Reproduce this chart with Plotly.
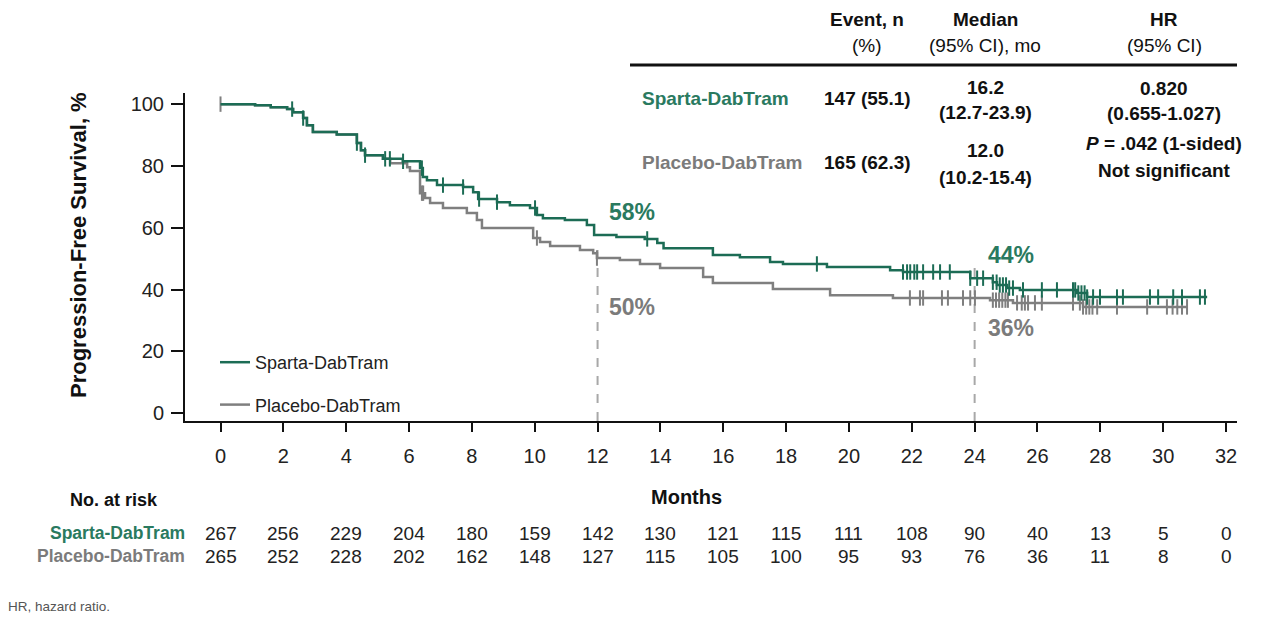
import numpy as np
import plotly.graph_objects as go

# ---------------- data ----------------
month_ticks = list(range(0, 33, 2))
y_ticks = [0, 20, 40, 60, 80, 100]

sparta_name = "Sparta-DabTram"
placebo_name = "Placebo-DabTram"

# Kaplan-Meier step points (month, PFS %)
sparta_t = [0, 1.10, 1.6, 2.12, 2.31, 2.63, 2.75, 2.94, 3.7, 4.34, 4.47, 4.6, 5.17, 5.8,
            6.35, 6.44, 6.57, 6.89, 7.72, 8.04, 8.2, 8.8, 9.21, 9.85, 10.07, 10.26, 10.96,
            11.66, 11.89, 12.6, 13.5, 13.9, 14.1, 15.67, 16.53, 17.49, 17.9, 19.3, 21.31,
            21.72, 23.86, 24.58, 24.71, 25.03, 25.44, 27.26, 27.58]
sparta_s = [100, 99.6, 99.0, 98.4, 97.4, 95.5, 93.2, 91.0, 90.2, 87.4, 85.1, 83.5, 82.3, 81.5,
            79.3, 76.4, 75.4, 73.8, 73.2, 71.5, 69.3, 68.3, 67.3, 66.4, 64.1, 63.1, 62.5,
            60.9, 57.7, 57.0, 56.4, 55.1, 53.4, 51.2, 50.5, 48.9, 48.3, 47.3, 46.3,
            45.7, 43.7, 42.4, 41.5, 40.5, 39.9, 38.9, 37.6]
sparta_last = 31.4

placebo_t = [0, 1.10, 1.6, 2.12, 2.31, 2.63, 2.75, 2.94, 3.7, 4.34, 4.47, 4.6, 5.17, 5.4,
             5.94, 6.03, 6.35, 6.51, 6.67, 7.08, 7.84, 8.16, 8.32, 9.95, 10.17, 10.49, 11.44,
             11.86, 11.98, 12.71, 13.35, 13.99, 15.36, 15.67, 17.58, 19.40, 21.4, 24.49,
             25.22, 27.45]
placebo_s = [100, 99.6, 99.0, 98.4, 97.4, 95.5, 93.2, 91.0, 90.2, 87.4, 85.1, 83.5, 82.3, 80.9,
             79.6, 78.4, 71.2, 69.6, 68.0, 66.4, 64.8, 62.5, 59.9, 56.7, 55.4, 54.1, 52.8,
             51.8, 50.2, 49.6, 48.3, 47.0, 44.1, 42.1, 40.2, 38.2, 37.3, 36.6,
             35.7, 34.4]
placebo_last = 30.76

# censoring times (months)
sparta_censor = [2.28, 2.63, 4.34, 4.6, 5.24, 5.39, 5.81, 6.41, 7.08, 7.72, 8.23, 8.8, 10.01,
                 13.58, 18.98, 21.72, 21.85, 21.95, 22.08, 22.17, 22.36, 22.68, 22.9, 23.21,
                 23.86, 24.08, 24.27, 24.58, 24.7, 24.8, 24.9, 25.0, 25.1, 25.22, 25.54,
                 26.14, 26.62, 27.13, 27.2, 27.3, 27.4, 27.5, 27.58, 27.77, 27.99, 28.53,
                 28.72, 29.58, 29.84, 30.32, 30.6, 31.17, 31.33]
placebo_censor = [0.0, 6.41, 6.45, 10.07, 11.98, 21.94, 22.26, 22.36, 22.96, 23.15, 23.63, 23.86,
                  24.01, 24.58, 24.68, 24.78, 24.88, 24.98, 25.06, 25.35, 25.5, 25.6, 25.7,
                  25.92, 26.14, 27.13, 27.35, 27.45, 27.55, 27.65, 27.75, 27.9, 28.53, 29.49,
                  30.12, 30.3, 30.45, 30.6, 30.76]

# landmarks
landmark_months = [12, 24]
landmark_line_top = [52.8, 48.0]
sparta_landmark = ["58%", "44%"]
placebo_landmark = ["50%", "36%"]

# numbers at risk
risk_months = month_ticks
sparta_risk = [267, 256, 229, 204, 180, 159, 142, 130, 121, 115, 111, 108, 90, 40, 13, 5, 0]
placebo_risk = [265, 252, 228, 202, 162, 148, 127, 115, 105, 100, 95, 93, 76, 36, 11, 8, 0]

# summary table
table_header = [["Event, n", "(%)"], ["Median", "(95% CI), mo"], ["HR", "(95% CI)"]]
sparta_events = "147 (55.1)"
placebo_events = "165 (62.3)"
sparta_median = ["16.2", "(12.7-23.9)"]
placebo_median = ["12.0", "(10.2-15.4)"]
hr_text = ["0.820", "(0.655-1.027)", "<i>P</i> = .042 (1-sided)", "Not significant"]

# ---------------- style / geometry ----------------
GREEN = "#1c6c55"
GREEN_TXT = "#2a7a5f"
GRAY = "#7f7f7f"
GRAY_TXT = "#7b7b7b"
DASH = "#a8a8a8"
FONT = "Liberation Sans Narrow, Arial Narrow, Liberation Sans, Arial, sans-serif"

OFF = 8  # page body margin
W, H = 1263 - OFF, 625 - OFF
L, R, T, B = 185, 1237, 93, 421      # plot area in page pixels
X_RANGE = [-1.13, 32.35]
Y_RANGE = [-2.5, 103.6]


def px(x):
    return (x - L) / (R - L)


def py(y):
    return (B - y) / (B - T)


def step_value(ts, ss, t):
    i = np.searchsorted(np.array(ts), t, side="right") - 1
    return ss[max(i, 0)]


fig = go.Figure()

# dashed landmark lines
for m, top in zip(landmark_months, landmark_line_top):
    fig.add_trace(go.Scatter(x=[m, m], y=[Y_RANGE[0], top], mode="lines",
                             line=dict(color=DASH, width=2, dash="dash"),
                             showlegend=False, hoverinfo="skip"))

# curves
for name, ts, ss, last, cens, col, grp in [
    (placebo_name, placebo_t, placebo_s, placebo_last, placebo_censor, GRAY, "b"),
    (sparta_name, sparta_t, sparta_s, sparta_last, sparta_censor, GREEN, "a"),
]:
    fig.add_trace(go.Scatter(x=list(ts) + [last], y=list(ss) + [ss[-1]], mode="lines",
                             line=dict(color=col, width=2.5, shape="hv"),
                             name=name, legendgroup=grp, legendrank=1 if grp == "a" else 2))
    cy = [step_value(ts, ss, c) for c in cens]
    fig.add_trace(go.Scatter(x=cens, y=cy, mode="markers",
                             marker=dict(symbol="line-ns", size=11,
                                         line=dict(color=col, width=2)),
                             showlegend=False, hoverinfo="skip", legendgroup=grp))

ann = []


def add_text(x, y, text, size, color="#111", xanchor="center", xref="paper", yref="paper", **kw):
    ann.append(dict(x=x, y=y, xref=xref, yref=yref, text=text, showarrow=False,
                    xanchor=xanchor, yanchor="middle",
                    font=dict(size=size, color=color, family=FONT), **kw))


# landmark labels
lab_x = [13.11, 25.15]
lab_y_sp = [65.1, 51.2]
lab_y_pl = [34.4, 27.6]
for i in range(len(landmark_months)):
    add_text(lab_x[i], lab_y_sp[i], f"<b>{sparta_landmark[i]}</b>", 23, GREEN_TXT, xref="x", yref="y")
    add_text(lab_x[i], lab_y_pl[i], f"<b>{placebo_landmark[i]}</b>", 23, GRAY_TXT, xref="x", yref="y")

# y axis title
add_text(px(78), py(245), "<b>Progression-Free Survival, %</b>", 22, "#111", textangle=-90)

# summary table
col_x = [867, 985, 1164]
TFS = 19
for cx, (h1, h2) in zip(col_x, table_header):
    add_text(px(cx), py(20), f"<b>{h1}</b>", TFS)
    add_text(px(cx), py(46), h2, TFS)

add_text(px(640), py(98), f"<b>{sparta_name}</b>", TFS, GREEN_TXT, xanchor="left")
add_text(px(640), py(162), f"<b>{placebo_name}</b>", TFS, GRAY_TXT, xanchor="left")
add_text(px(col_x[0]), py(98), f"<b>{sparta_events}</b>", TFS)
add_text(px(col_x[0]), py(162), f"<b>{placebo_events}</b>", TFS)
for txt, yy in zip(sparta_median, [87, 112]):
    add_text(px(col_x[1]), py(yy), f"<b>{txt}</b>", TFS)
for txt, yy in zip(placebo_median, [150, 177]):
    add_text(px(col_x[1]), py(yy), f"<b>{txt}</b>", TFS)
for txt, yy in zip(hr_text, [88, 114, 143, 170]):
    add_text(px(col_x[2]), py(yy), f"<b>{txt}</b>", TFS)

# risk table
add_text(px(160), py(500), "<b>No. at risk</b>", 18, xanchor="right")
add_text(px(686), py(497), "<b>Months</b>", 20)
add_text(px(187), py(533), f"<b>{sparta_name}</b>", 17.5, GREEN_TXT, xanchor="right")
add_text(px(187), py(556), f"<b>{placebo_name}</b>", 17.5, GRAY_TXT, xanchor="right")
for m, a, b in zip(risk_months, sparta_risk, placebo_risk):
    add_text(m, py(533), str(a), 19, "#222", xref="x")
    add_text(m, py(556), str(b), 19, "#222", xref="x")

# footnote
add_text(px(6), py(606), "HR, hazard ratio.", 13.5, "#555", xanchor="left")

fig.update_layout(
    width=W, height=H,
    margin=dict(l=L - OFF, r=(W + OFF) - R, t=T - OFF, b=(H + OFF) - B, pad=0),
    paper_bgcolor="white", plot_bgcolor="white",
    font=dict(family=FONT, color="#111"),
    annotations=ann,
    shapes=[dict(type="line", xref="paper", yref="paper", x0=px(630), x1=px(1237),
                 y0=py(65), y1=py(65), line=dict(color="#111", width=3))],
    showlegend=True,
    legend=dict(x=px(215), y=py(344), xanchor="left", yanchor="top",
                font=dict(size=18, color="#222", family=FONT),
                bgcolor="rgba(0,0,0,0)", tracegroupgap=16, itemwidth=30),
    xaxis=dict(range=X_RANGE, tickvals=month_ticks, ticks="outside", ticklen=9, tickwidth=2,
               tickcolor="#111", showline=True, linecolor="#111", linewidth=2,
               showgrid=False, zeroline=False, ticklabelstandoff=7,
               tickfont=dict(size=20, color="#222", family=FONT)),
    yaxis=dict(range=Y_RANGE, tickvals=y_ticks, ticks="outside", ticklen=12, tickwidth=2,
               tickcolor="#111", showline=True, linecolor="#111", linewidth=2,
               showgrid=False, zeroline=False, ticklabelstandoff=3,
               tickfont=dict(size=20, color="#222", family=FONT)),
)

fig.write_html("out.html")
